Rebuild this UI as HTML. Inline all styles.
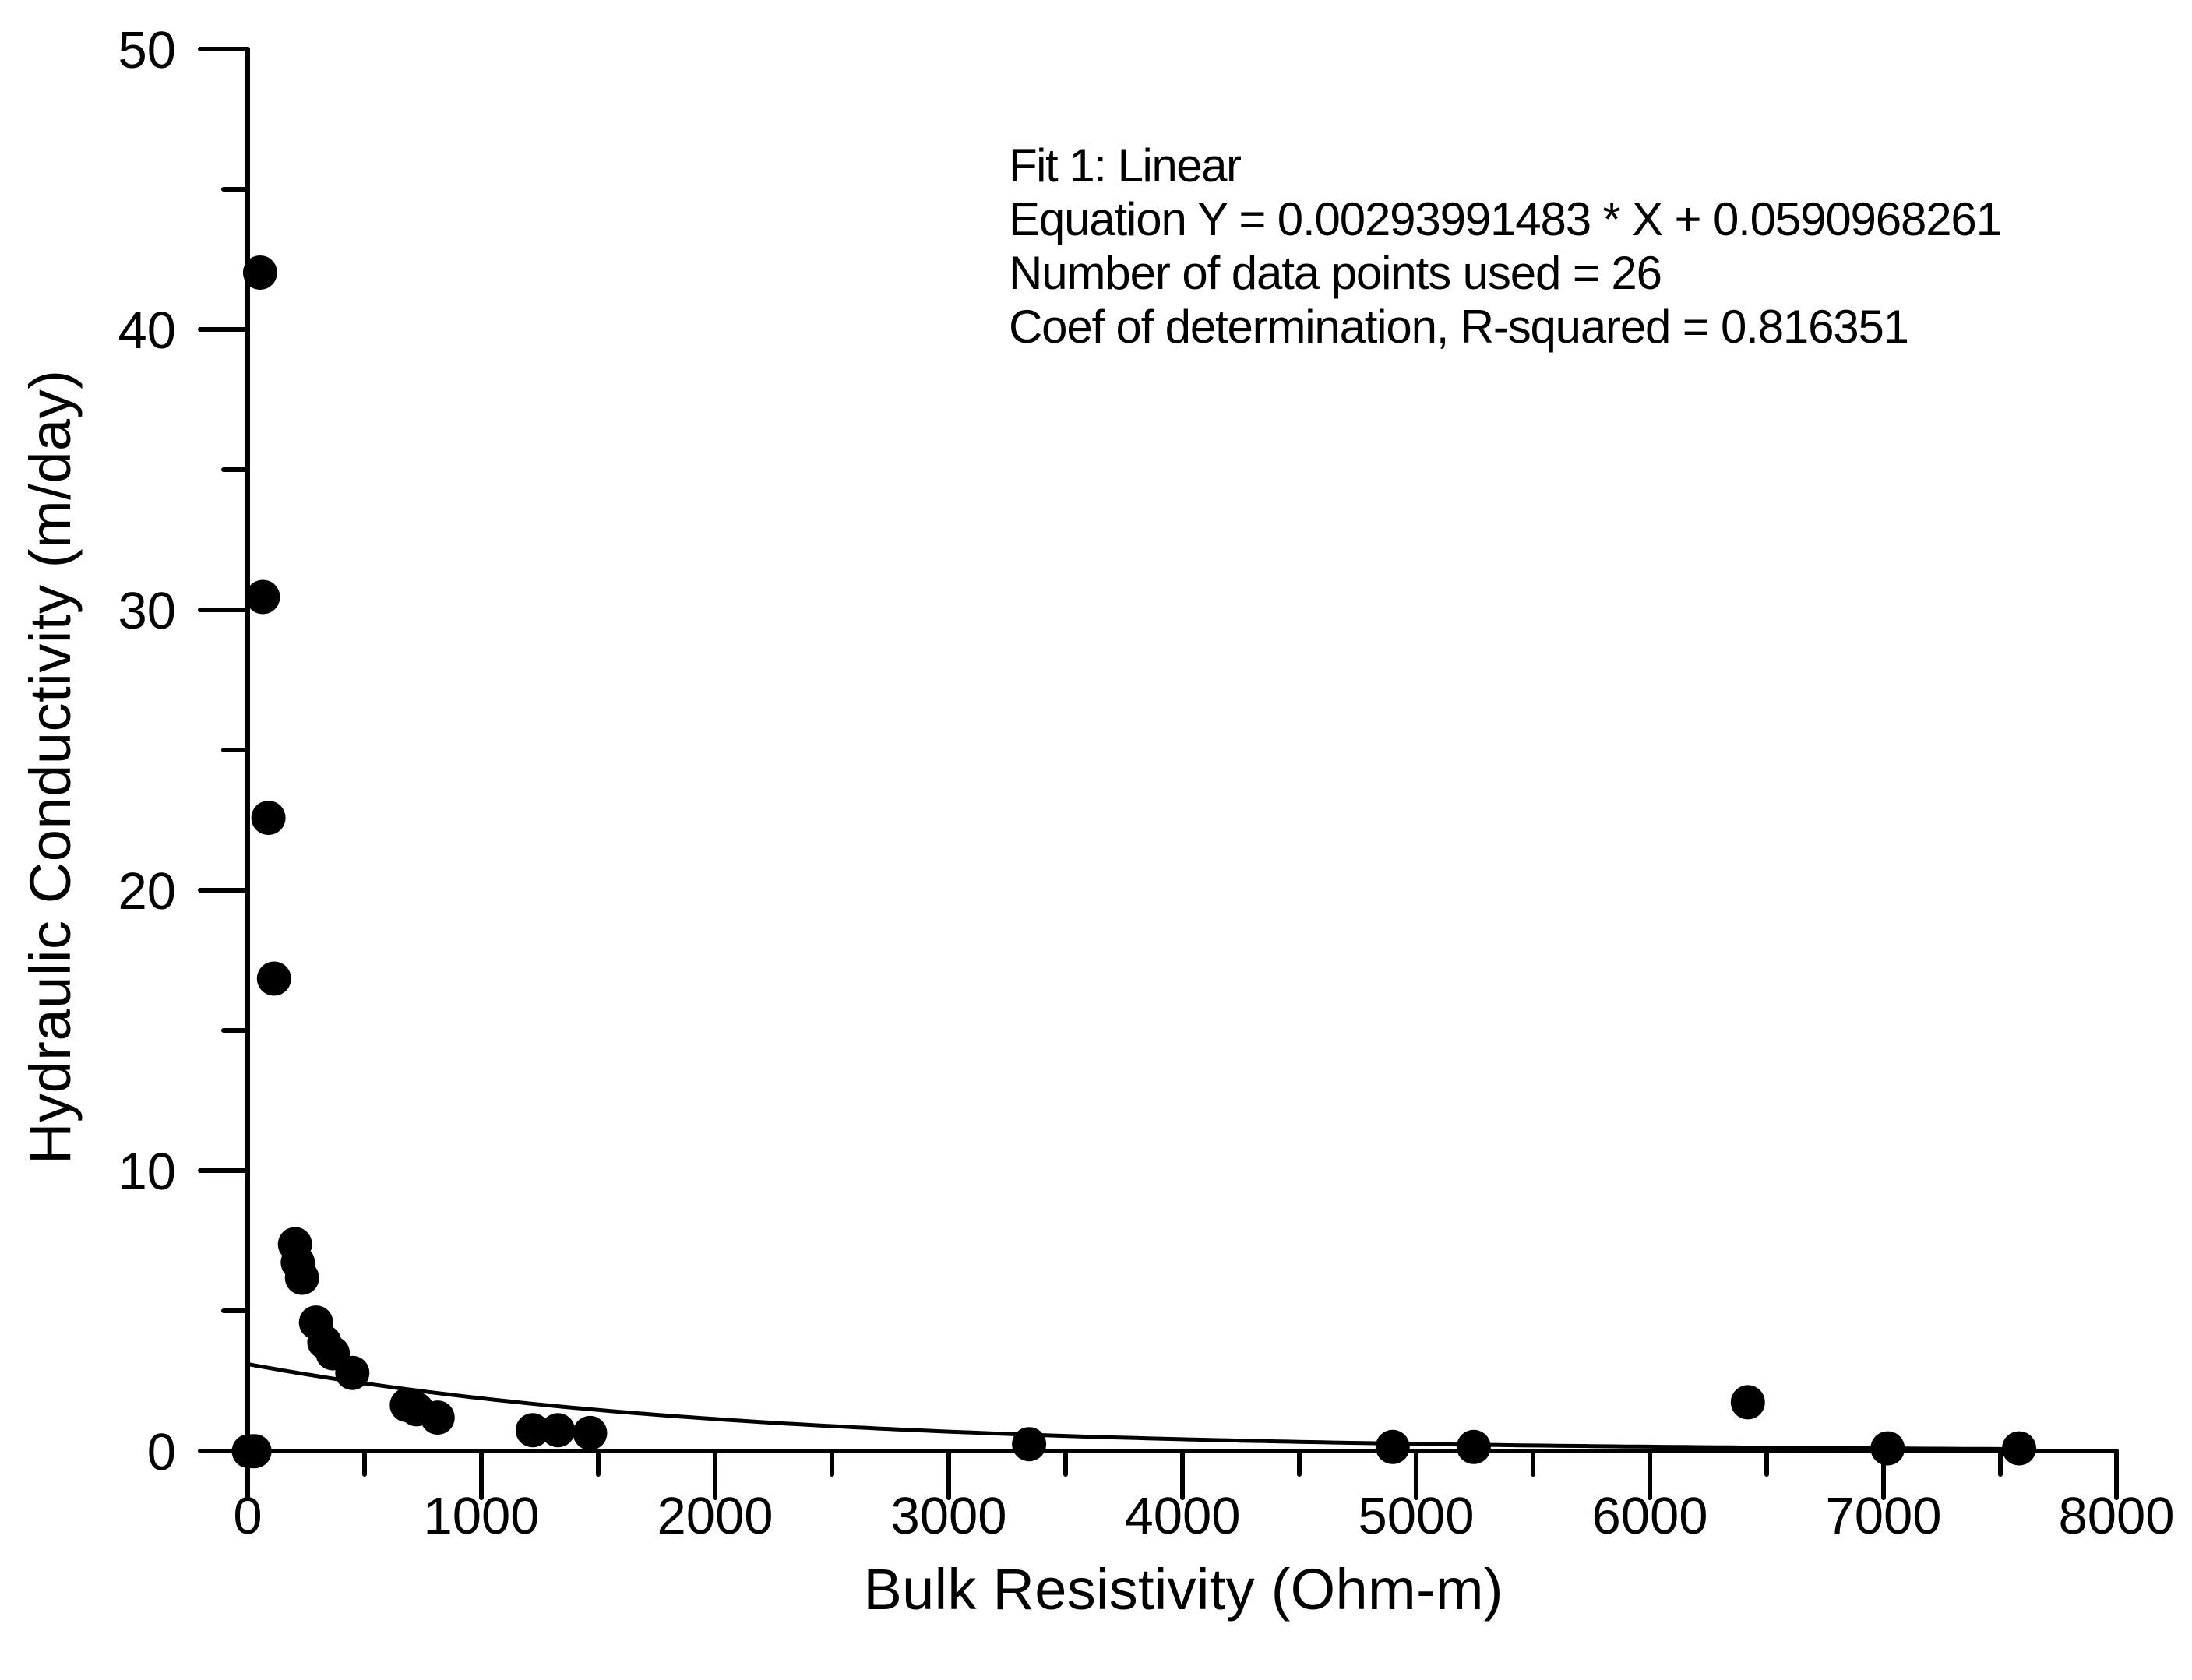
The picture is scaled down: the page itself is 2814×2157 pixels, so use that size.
<!DOCTYPE html>
<html><head><style>html,body{margin:0;padding:0;background:#fff}svg{display:block}</style></head>
<body>
<svg id="s" width="2814" height="2157" viewBox="0 0 2814 2157" xmlns="http://www.w3.org/2000/svg" font-family="Liberation Sans, Arial, sans-serif">
<g stroke="#000" stroke-width="6" fill="none" stroke-linecap="round">
<path d="M318 63V1863H2717"/>
<path d="M257 63H318M257 423H318M257 783H318M257 1143H318M257 1503H318M257 1863H318"/>
<path d="M287 243H318M287 603H318M287 963H318M287 1323H318M287 1683H318"/>
<path d="M318 1863v60M618 1863v60M918 1863v60M1218 1863v60M1518 1863v60M1818 1863v60M2118 1863v60M2418 1863v60M2717 1863v60"/>
<path d="M468 1863v30M768 1863v30M1068 1863v30M1368 1863v30M1668 1863v30M1968 1863v30M2268 1863v30M2568 1863v30"/>
<path id="fit" stroke-width="5"/>
</g>
<g font-size="67" text-anchor="end">
<text x="226" y="87">50</text><text x="226" y="447">40</text><text x="226" y="807">30</text><text x="226" y="1167">20</text><text x="226" y="1527">10</text><text x="226" y="1887">0</text>
</g>
<g font-size="67" text-anchor="middle">
<text x="318" y="1969">0</text><text x="618" y="1969">1000</text><text x="918" y="1969">2000</text><text x="1218" y="1969">3000</text><text x="1518" y="1969">4000</text><text x="1818" y="1969">5000</text><text x="2118" y="1969">6000</text><text x="2418" y="1969">7000</text><text x="2717" y="1969">8000</text>
</g>
<text x="1519" y="2066" font-size="74" text-anchor="middle" textLength="821">Bulk Resistivity (Ohm-m)</text>
<text transform="translate(90,985) rotate(-90)" font-size="74" text-anchor="middle" textLength="1020">Hydraulic Conductivity (m/day)</text>
<g font-size="60">
<text x="1295" y="233" textLength="299">Fit 1: Linear</text>
<text x="1295" y="302" textLength="1275">Equation Y = 0.00293991483 * X + 0.0590968261</text>
<text x="1295" y="371" textLength="839">Number of data points used = 26</text>
<text x="1295" y="440" textLength="1156">Coef of determination, R-squared = 0.816351</text>
</g>
<g id="pts" fill="#000"></g>
</svg>
<script>
var d=[[178,1038],[182,1038],[186,195],[188,427],[192,585],[196,700],[211,890],[213,903],[216,914],[226,946],[232,960],[238,968],[252,982],[291,1005],[298,1008],[313,1014],[381,1023],[399,1023],[422,1025],[736,1033],[996,1035],[1054,1035],[1250,1003],[1350,1036],[1444,1036]];
var g=document.getElementById('pts'),h='';
d.forEach(function(p){h+='<circle cx="'+(p[0]*1.795).toFixed(1)+'" cy="'+(p[1]*1.795).toFixed(1)+'" r="22"/>';});
g.innerHTML=h;
var s='';for(var x=0;x<=7600;x+=50){var px=318+x*0.2999,py=1863-36*3.1*Math.exp(-x/2000);s+=(x?'L':'M')+px.toFixed(1)+' '+py.toFixed(1);}
document.getElementById('fit').setAttribute('d',s);
</script>
</body></html>
